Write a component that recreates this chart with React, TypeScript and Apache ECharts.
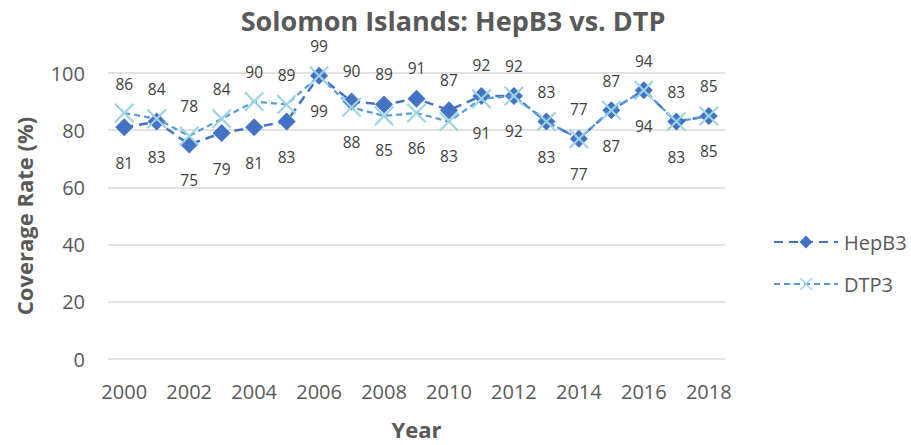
import React, { useEffect, useRef } from "react";
import * as echarts from "echarts";

const years = ["2000","2001","2002","2003","2004","2005","2006","2007","2008","2009","2010","2011","2012","2013","2014","2015","2016","2017","2018"];
const hepB3 = [81, 83, 75, 79, 81, 83, 99, 90, 89, 91, 87, 92, 92, 83, 77, 87, 94, 83, 85];
const dtp3 = [86, 84, 78, 84, 90, 89, 99, 88, 85, 86, 83, 91, 92, 83, 77, 87, 94, 83, 85];
const yTicks = [0, 20, 40, 60, 80, 100];

const FONT = "Open Sans";
const X_PATH = "path://M0,1.5L1.5,0L10,8.5L18.5,0L20,1.5L11.5,10L20,18.5L18.5,20L10,11.5L1.5,20L0,18.5L8.5,10Z";

export default function App() {
  const ref = useRef<HTMLDivElement>(null);
  useEffect(() => {
    if (!ref.current) return;
    const chart = echarts.init(ref.current, undefined, { renderer: "svg" });
    const labelStyle = { fontFamily: FONT, fontSize: 15.5, lineHeight: 15, color: "#404040" };
    const hepData = hepB3.map((v, i) => {
      const up = v > dtp3[i];
      return {
        value: v,
        label: { show: true, position: up ? "top" : "bottom", distance: up ? 14 : 19, ...labelStyle },
      };
    });
    const dtpData = dtp3.map((v, i) => {
      const up = v >= hepB3[i];
      return {
        value: v,
        label: { show: true, position: up ? "top" : "bottom", distance: up ? 12 : 17, ...labelStyle },
      };
    });
    chart.setOption({
      animation: false,
      title: {
        text: "Solomon Islands: HepB3 vs. DTP",
        left: 453,
        textAlign: "center",
        top: 5,
        padding: 0,
        textStyle: { fontFamily: FONT, fontSize: 27, lineHeight: 30, fontWeight: "bold", color: "#595959" },
      },
      grid: { left: 108, right: 186, top: 73, bottom: 81 },
      legend: {
        orient: "vertical",
        left: 768,
        top: 227,
        itemWidth: 64,
        itemHeight: 16,
        itemGap: 22,
        textStyle: { fontFamily: FONT, fontSize: 20, color: "#595959", padding: [0, 0, 0, 1] },
        data: ["HepB3", "DTP3"],
      },
      xAxis: {
        type: "category",
        data: years,
        boundaryGap: true,
        name: "Year",
        nameLocation: "middle",
        nameGap: 59,
        nameTextStyle: { fontFamily: FONT, fontSize: 22, fontWeight: "bold", color: "#595959" },
        axisLine: { show: false },
        axisTick: { show: false },
        axisLabel: { interval: 1, fontFamily: FONT, fontSize: 20, color: "#595959", margin: 22 },
      },
      yAxis: {
        type: "value",
        min: 0,
        max: 100,
        interval: 20,
        name: "Coverage Rate (%)",
        nameLocation: "middle",
        nameGap: 73,
        nameTextStyle: { fontFamily: FONT, fontSize: 22, fontWeight: "bold", color: "#595959" },
        axisLine: { show: false },
        axisTick: { show: false },
        splitLine: { lineStyle: { color: "#D9D9D9", width: 1.5 } },
        axisLabel: {
          fontFamily: FONT, fontSize: 20, color: "#595959", margin: 23,
          formatter: (v: number) => (yTicks.includes(v) ? String(v) : ""),
        },
      },
      series: [
        {
          name: "HepB3",
          type: "line",
          data: hepData,
          symbol: "diamond",
          symbolSize: 18,
          itemStyle: { color: "#4472C4" },
          lineStyle: { color: "#4472C4", width: 2.5, type: [9, 6] },
          z: 2,
        },
        {
          name: "DTP3",
          type: "line",
          data: dtpData,
          symbol: X_PATH,
          symbolSize: 20,
          itemStyle: { color: "#9DD3E6" },
          lineStyle: { color: "#5B9BD5", width: 2.2, type: [6, 4] },
          z: 3,
        },
      ],
    });
    return () => chart.dispose();
  }, []);
  return <div ref={ref} style={{ position: "absolute", left: 0, top: 0, width: 911, height: 445 }} />;
}
